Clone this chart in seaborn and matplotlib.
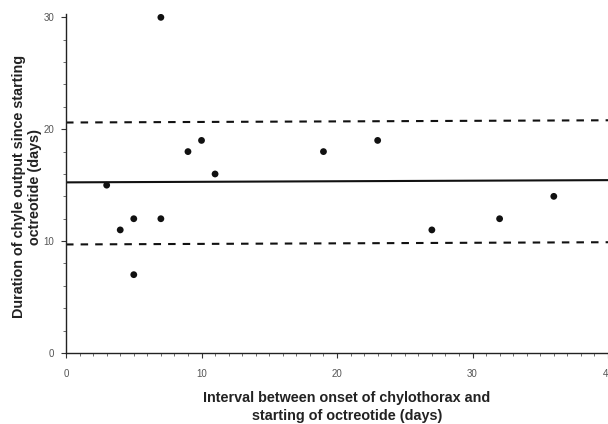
import matplotlib.pyplot as plt
import seaborn as sns
import pandas as pd
from matplotlib.ticker import MultipleLocator

# interval (days) vs duration of chyle output (days)
interval = [3, 4, 5, 5, 7, 7, 9, 10, 11, 19, 23, 27, 32, 36]
duration = [15, 11, 12, 7, 30, 12, 18, 19, 16, 18, 19, 11, 12, 14]

# reference lines, level at x=0 and x=40
line_x = [0, 40]
mean_line = [15.25, 15.45]
upper_line = [20.6, 20.8]
lower_line = [9.7, 9.9]


def main():
    sns.set_style("ticks")
    plt.rcParams["font.family"] = ["Liberation Sans", "DejaVu Sans"]

    df = pd.DataFrame({"interval": interval, "duration": duration})

    fig = plt.figure(figsize=(6.08, 4.24), dpi=100)
    ax = fig.add_axes([0.1086, 0.1675, 0.8914, 0.7995])

    sns.lineplot(x=line_x, y=mean_line, color="#111111", lw=1.5, ax=ax)
    for lvl in (upper_line, lower_line):
        sns.lineplot(x=line_x, y=lvl, color="#111111", lw=1.5,
                     dashes=False, ax=ax).lines[-1].set_dashes((3.6, 3.4))
    sns.scatterplot(data=df, x="interval", y="duration", color="#111111",
                    s=24, edgecolor="none", ax=ax)

    ax.set_xlim(0, 40)
    ax.set_ylim(0, 30.3)
    ax.xaxis.set_major_locator(MultipleLocator(10))
    ax.xaxis.set_minor_locator(MultipleLocator(1))
    ax.yaxis.set_major_locator(MultipleLocator(10))
    ax.yaxis.set_minor_locator(MultipleLocator(2))
    ax.tick_params(which="major", length=3.5, width=0.8, color="#333333",
                   labelsize=7, labelcolor="#555555")
    ax.tick_params(which="minor", length=2, width=0.6, color="#555555")
    ax.tick_params(axis="x", which="major", pad=8)
    ax.tick_params(axis="y", which="major", pad=5)
    for s in ("left", "bottom"):
        ax.spines[s].set_color("#222222")
        ax.spines[s].set_linewidth(1.0)
    sns.despine(ax=ax)

    ax.set_xlabel("Interval between onset of chylothorax and\nstarting of octreotide (days)",
                  fontsize=10.4, fontweight="bold", color="#222222", linespacing=1.4)
    ax.xaxis.set_label_coords(0.518, -0.112)
    ax.xaxis.label.set_va("top")
    ax.set_ylabel("Duration of chyle output since starting\noctreotide (days)",
                  fontsize=10.4, fontweight="bold", color="#222222", linespacing=1.1)
    ax.yaxis.set_label_coords(-0.072, 0.49)
    ax.yaxis.label.set_va("center")

    fig.savefig("out.png", dpi=100)


if __name__ == "__main__":
    main()
